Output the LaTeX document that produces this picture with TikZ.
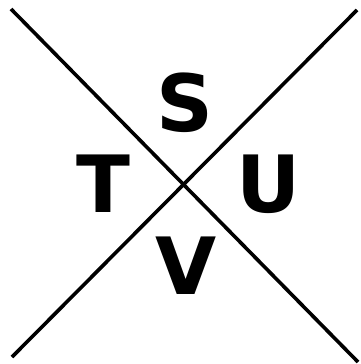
\documentclass[tikz,border=0pt]{standalone}
\usepackage{fontspec}
\newfontfamily\lblfont{DejaVu Sans}
\usetikzlibrary{positioning}

\begin{document}
\begin{tikzpicture}[
  x=1pt,y=-1pt,
  ltr/.style={inner sep=0pt,font=\lblfont\bfseries\fontsize{79}{80}\selectfont},
  ln/.style={line width=3.6pt}
]
\useasboundingbox (0,0) rectangle (360,364);
% corners of the cross
\coordinate (nw) at (11,9);
\coordinate (se) at (358,362);
\coordinate (ne) at (357,10);
\coordinate (sw) at (12,357);
\draw[ln] (nw) -- (se);
\draw[ln] (ne) -- (sw);
% letters round the crossing
\node[ltr] (S) at (185,103)   {S};
\node[ltr] (T) at (103.5,184) {T};
\node[ltr] (U) at (269,184)   {U};
\node[ltr] (V) at (186,266)   {V};
\end{tikzpicture}
\end{document}
